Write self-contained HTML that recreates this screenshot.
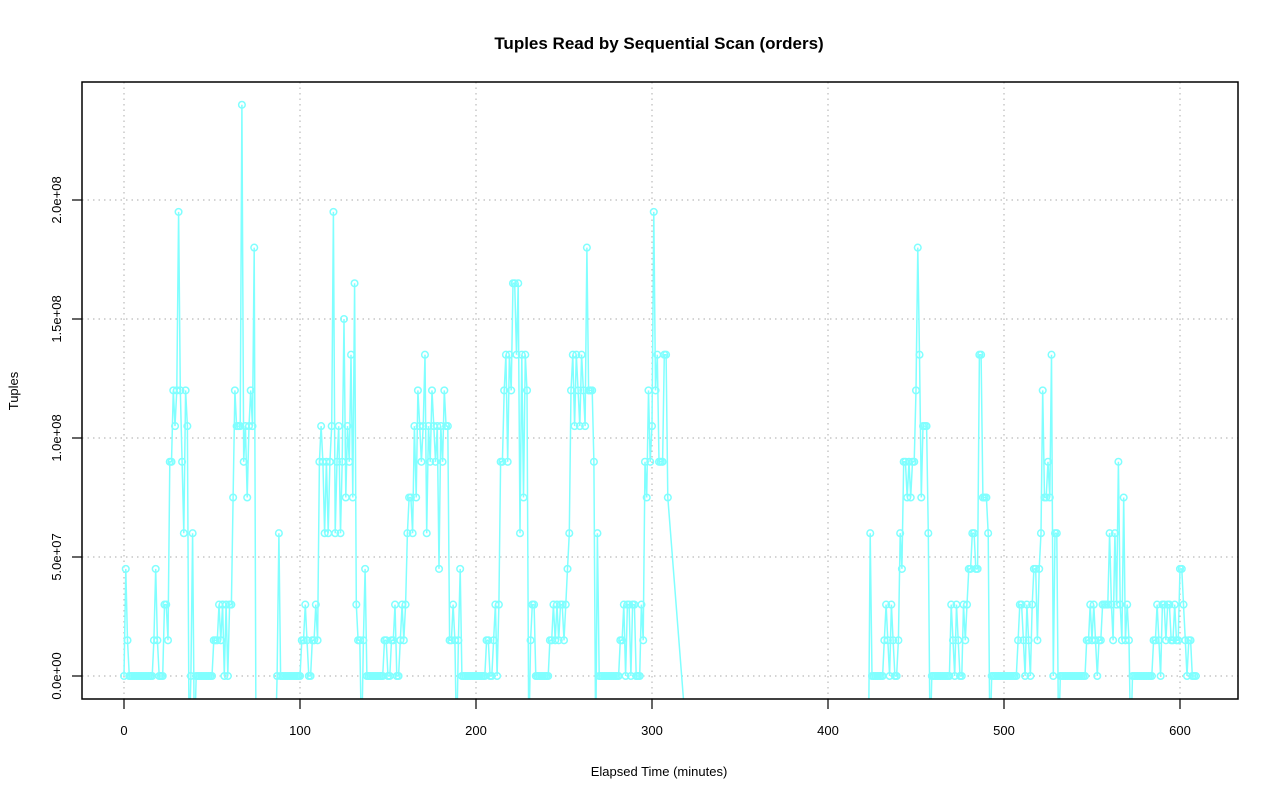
<!DOCTYPE html>
<html><head><meta charset="utf-8"><style>
html,body{margin:0;padding:0;background:#fff;overflow:hidden;width:1280px;height:801px;}
svg{display:block;}
svg text{font-family:"Liberation Sans",sans-serif;}
</style></head><body>
<svg id="s" width="1280" height="801" xmlns="http://www.w3.org/2000/svg">
<defs><clipPath id="c"><rect x="82" y="82" width="1156" height="617"/></clipPath></defs>
<text x="659" y="49" text-anchor="middle" font-size="17" font-weight="bold">Tuples Read by Sequential Scan (orders)</text>
<text x="659" y="776" text-anchor="middle" font-size="13">Elapsed Time (minutes)</text>
<text transform="translate(18,391) rotate(-90)" text-anchor="middle" font-size="13">Tuples</text>
<g id="grid" stroke="#bbb" stroke-width="1.2" stroke-dasharray="1.5,4"></g>
<g id="axes"></g>
<g id="data" clip-path="url(#c)"></g>
<rect x="82" y="82" width="1156" height="617" fill="none" stroke="#000" stroke-width="1.5"/>
</svg>
<script>
var NS="http://www.w3.org/2000/svg";
function el(p,n,a,t){var e=document.createElementNS(NS,n);for(var k in a)e.setAttribute(k,a[k]);if(t)e.textContent=t;p.appendChild(e);return e;}
var X=function(t){return 124+t*1.76;}, Y=function(v){return 676-v*35.7;};
var g=document.getElementById('grid'),ax=document.getElementById('axes'),d=document.getElementById('data');
for(var t=0;t<=600;t+=100){el(g,'line',{x1:X(t),x2:X(t),y1:82,y2:699});
 el(ax,'line',{x1:X(t),x2:X(t),y1:699,y2:709,stroke:'#000','stroke-width':1.2});
 el(ax,'text',{x:X(t),y:735,'text-anchor':'middle','font-size':13},String(t));}
var yl=["0.0e+00","5.0e+07","1.0e+08","1.5e+08","2.0e+08"];
for(var i=0;i<5;i++){var y=676-i*119;el(g,'line',{x1:82,x2:1238,y1:y,y2:y});
 el(ax,'line',{x1:72,x2:82,y1:y,y2:y,stroke:'#000','stroke-width':1.2});
 el(ax,'text',{transform:'translate(61,'+y+') rotate(-90)','text-anchor':'middle','font-size':13},yl[i]);}
var segs=[[0,[0,3,1,0,0,0,0,0,0,0, 0,0,0,0,0,0,0,1,3,1, 0,0,0,2,2,1,6,6,8,7, 8,13,8,6,4,8,7,-10,0,4, -10,0,0,0,0,0,0,0,0,0, 0,1,1,1,2,1,2,0,2,0, 2,2,5,8,7,7,7,16,6,7, 5,7,8,7,12,-10,-10,-10,-10,-10, -10,-10,-10,-10,-10,-10,-10,0,4,0, 0,0,0,0,0,0,0,0,0,0,
0,1,1,2,1,0,0,1,1,2, 1,6,7,6,4,6,4,6,7,13, 4,6,7,4,6,10,5,7,6,9, 5,11,2,1,1,-10,1,3,0,0, 0,0,0,0,0,0,0,0,1,1, 0,0,1,1,2,0,0,1,2,1, 2,4,5,5,4,7,5,8,7,6, 7,9,4,7,6,8,7,6,7,3, 7,6,8,7,7,1,1,2,1,-10, 1,3,0,0,0,0,
0,0,0,0,0,0,0,0,0,0,1,1,0,0, 1,2,0,2,6,6, 8,9,6,9,8,11,11,9,11,4,9,5,9,8, -10,1,2,2,0,0,0,0,0,0, 0,0,1,1,2,1,2,1,2,2, 1,2,3,4,8,9,7,9,8,7, 9,8,7,12,8,8,8,6,-10,4, 0,0,0,0,0,0,0,0,0,0, 0,0,1,1,2,0,2,2,0,2, 2,0,0,0,2,1,6,5,8,6, 7,13,8,9,6,6,6,9,9,5]],
[320,[-10]],
[424,[4,0,0,0,0,0,0,0,1,2, 1,0,2,1,0,0,1,4,3,6, 6,5,6,5,6,6,8,12,9,5, 7,7,7,4,-10,0, 0,0,0,0,0,0,0,0,0,0,
2,1,0,2,1,0,0,2,1,2, 3,3,4,4,3,3,9,9,5,5, 5,4,-10,0,0,0,0,0,0,0, 0,0,0,0,0,0,0,0,1,2, 2,1,0,2,1,0,2,3,3,1, 3,4,8,5,5,6,5,9,0,4, 4,-10,0,0,0,0,0,0,0,0, 0,0,0,0,0,0,0,1,1,2, 1,2,1,0,1,1,2,2,2,2, 4,2,1,4,2,6,2,1,5,1, 2,1,-10,0,0,0,0,0,0,0, 0,0,0,0,0,1,1,2,1,0, 2,2,1,2,2,1,1,2,1,1, 3,3,2,1,0,1,1,0,0,0]]];
var pts=[];segs.forEach(function(s){s[1].forEach(function(v,i){pts.push([s[0]+i,v<0?-2:v]);});});
var seg1=[],seg2=[];pts.forEach(function(p){(p[0]<400?seg1:seg2).push(p);});
seg2.unshift([423,-2]);
[seg1,seg2].forEach(function(s){el(d,'polyline',{points:s.map(function(p){return X(p[0]).toFixed(1)+','+Y(p[1]).toFixed(1);}).join(' '),fill:'none',stroke:'#80ffff','stroke-width':1.5});});
pts.forEach(function(p){if(p[1]>=0)el(d,'circle',{cx:X(p[0]),cy:Y(p[1]),r:3.3,fill:'none',stroke:'#80ffff','stroke-width':1.5});});
</script>
</body></html>
